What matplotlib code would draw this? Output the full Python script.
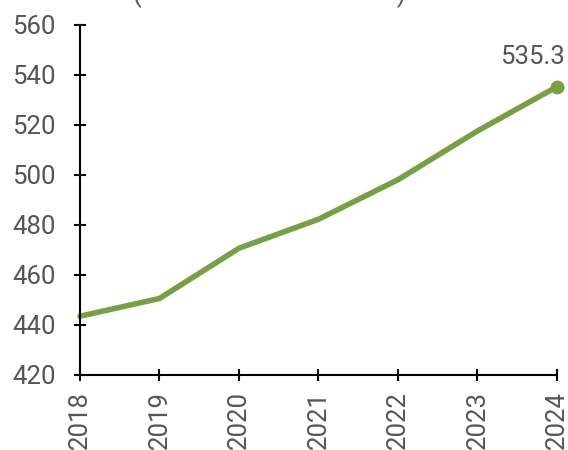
import matplotlib.pyplot as plt

years = ["2018", "2019", "2020", "2021", "2022", "2023", "2024"]
values = [443.5, 450.6, 470.7, 482.3, 498.1, 517.6, 535.3]

plt.rcParams["font.family"] = ["Roboto", "DejaVu Sans"]

fig = plt.figure(figsize=(5.68, 4.5), dpi=100)
ax = fig.add_axes([0.1408, 0.1667, 0.8398, 0.7778])

x = range(len(years))
ax.plot(x, values, color="#77a043", linewidth=4, solid_capstyle="round", clip_on=False)
ax.plot([x[-1]], [values[-1]], "o", color="#77a043", markersize=9, clip_on=False)
ax.annotate(f"{values[-1]}", (x[-1], values[-1]), xytext=(-18, 13),
            textcoords="offset points", ha="center", va="bottom",
            fontsize=18.5, color="#555555")

ax.set_xlim(0, len(years) - 1)
ax.set_ylim(420, 560)
ax.set_yticks(range(420, 561, 20))
ax.set_xticks(list(x))
ax.set_xticklabels(years, rotation=90)

for s in ["top", "right"]:
    ax.spines[s].set_visible(False)
for s in ["left", "bottom"]:
    ax.spines[s].set_linewidth(1.5)
    ax.spines[s].set_clip_on(False)
ax.tick_params(direction="inout", length=9, width=1.5, labelsize=18.5,
               labelcolor="#555555")
ax.tick_params(axis="y", pad=13)
ax.tick_params(axis="x", pad=7)

# title cut off at the top of the image
fig.text(0.475, 1.012, "(                                        )", ha="center",
         va="center", fontsize=18.5, color="#555555")

fig.savefig("out.png", dpi=100)
